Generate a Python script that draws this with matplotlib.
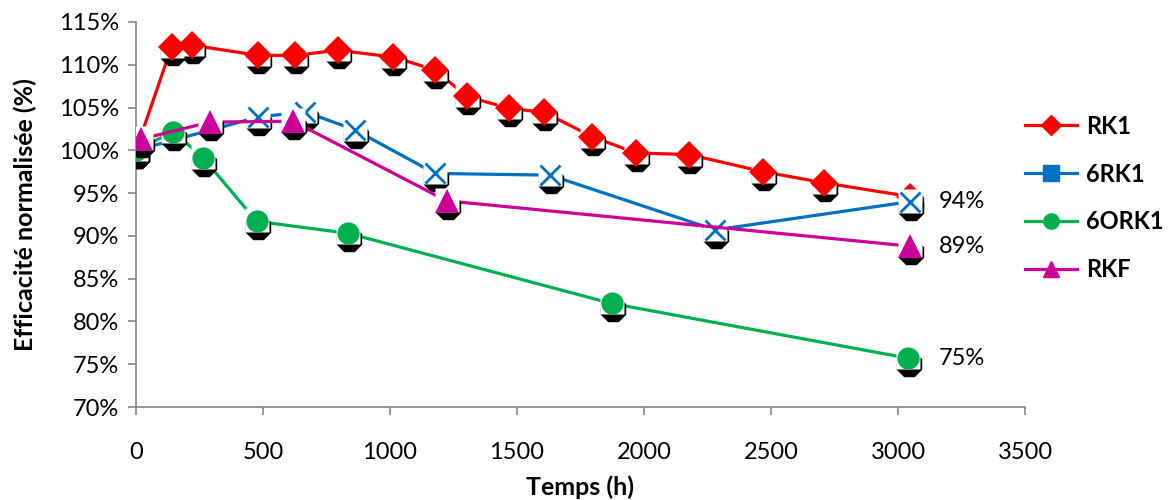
import matplotlib
matplotlib.use("Agg")
import matplotlib.pyplot as plt
from matplotlib.lines import Line2D
from matplotlib.ticker import FuncFormatter, MultipleLocator
import matplotlib.transforms as mtrans

plt.rcParams['font.family'] = ['Lato', 'DejaVu Sans']

# Data (hours, normalised efficiency %)
rk1_t = [0, 140, 219, 481, 626, 796, 1013, 1177, 1302, 1469, 1606, 1796, 1967, 2178, 2470, 2709, 3047]
rk1_v = [100.0, 112.1, 112.3, 111.1, 111.1, 111.7, 110.9, 109.4, 106.3, 104.9, 104.45, 101.6, 99.7, 99.5, 97.5, 96.2, 94.6]

rk6_t = [0, 482, 665, 862, 1177, 1630, 2280, 3047]
rk6_v = [100.0, 103.9, 104.5, 102.4, 97.3, 97.1, 90.7, 94.0]

ork_t = [0, 147, 265, 475, 836, 1873, 3041]
ork_v = [100.0, 102.2, 99.1, 91.7, 90.3, 82.1, 75.7]

rkf_t = [18, 291, 619, 1223, 3047]
rkf_v = [101.3, 103.3, 103.4, 94.1, 88.8]

series_names = ["RK1", "6RK1", "6ORK1", "RKF"]
end_labels = ["94%", "89%", "75%"]
end_label_vals = [94.0, 88.8, 75.7]
end_label_t = 3047

colors = {"RK1": "#FF0000", "6RK1": "#0070C0", "6ORK1": "#00B050", "RKF": "#CC0099"}

fig = plt.figure(figsize=(11.75, 5.0), dpi=100)
ax = fig.add_axes([136/1175, 1 - 407/500, (1025-136)/1175, (407-22)/500])

def draw(t, v, name, marker, ms, z):
    c = colors[name]
    ax.plot(t, v, color=c, lw=2.3, zorder=z, solid_capstyle='round')
    shadow = mtrans.offset_copy(ax.transData, fig=fig, x=1, y=-6, units='dots')
    ax.plot(t, v, ls='none', marker='8', ms=19, mfc='black', mec='black',
            transform=shadow, zorder=z + 0.1)
    up = mtrans.offset_copy(ax.transData, fig=fig, x=0, y=1, units='dots')
    ax.plot(t, v, ls='none', marker='s', ms=17, mfc='white', mec='none',
            transform=up, zorder=z + 0.2)
    if marker == 'x':
        ax.plot(t, v, ls='none', marker='x', ms=15, mec=c, mew=2.0, zorder=z + 0.3)
    else:
        ax.plot(t, v, ls='none', marker=marker, ms=ms, mfc=c, mec=c, mew=0, zorder=z + 0.3)

draw(rk1_t, rk1_v, "RK1", 'D', 14, 2)
draw(rk6_t, rk6_v, "6RK1", 'x', 15, 3)
draw(ork_t, ork_v, "6ORK1", 'o', 16, 4)
draw(rkf_t, rkf_v, "RKF", '^', 17, 5)

for lab, val in zip(end_labels, end_label_vals):
    ax.annotate(lab, (end_label_t, val), xytext=(21, 0), textcoords='offset points',
                va='center', ha='left', fontsize=17, color='black', zorder=10)

ax.set_xlim(0, 3500)
ax.set_ylim(70, 115)
ax.xaxis.set_major_locator(MultipleLocator(500))
ax.yaxis.set_major_locator(MultipleLocator(5))
ax.yaxis.set_major_formatter(FuncFormatter(lambda v, p: f"{v:.0f}%"))

for s in ['top', 'right']:
    ax.spines[s].set_visible(False)
for s in ['left', 'bottom']:
    ax.spines[s].set_color('#888888')
    ax.spines[s].set_linewidth(1.2)
ax.tick_params(axis='both', direction='out', length=6, width=1.2, color='#888888',
               labelsize=17, labelcolor='black')
ax.tick_params(axis='x', pad=19)
ax.tick_params(axis='y', pad=6)

ax.set_xlabel("Temps (h)", fontsize=18, fontweight='bold', labelpad=9)
ax.set_ylabel("Efficacité normalisée (%)", fontsize=18, fontweight='bold', labelpad=16)

handles = [
    Line2D([], [], color=colors["RK1"], lw=2.3, marker='D', ms=10, mec=colors["RK1"]),
    Line2D([], [], color=colors["6RK1"], lw=2.3, marker='s', ms=11, mec=colors["6RK1"]),
    Line2D([], [], color=colors["6ORK1"], lw=2.3, marker='o', ms=11, mec=colors["6ORK1"]),
    Line2D([], [], color=colors["RKF"], lw=2.3, marker='^', ms=12, mec=colors["RKF"]),
]
leg = fig.legend(handles, series_names, loc='upper left', bbox_to_anchor=(1020/1175, 1 - 110/500),
                 frameon=False, prop={'weight': 'bold', 'size': 17}, labelspacing=1.05,
                 handlelength=2.2, handletextpad=0.4, borderaxespad=0, borderpad=0.2)

fig.savefig("out.png", dpi=100)
